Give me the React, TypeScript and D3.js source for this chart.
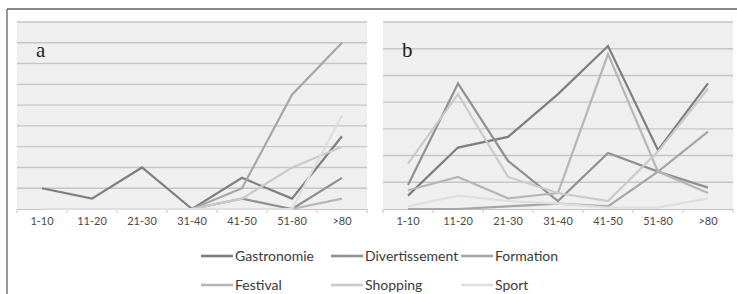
import React, { useEffect, useRef } from "react";
import * as d3 from "d3";

const ageGroups = ["1-10", "11-20", "21-30", "31-40", "41-50", "51-80", ">80"];
const seriesNames = ["Gastronomie", "Divertissement", "Formation", "Festival", "Shopping", "Sport"];
const seriesColors = ["#7e7e7e", "#909090", "#a6a6a6", "#b6b6b6", "#cacaca", "#dedede"];

// panel a
const aGastronomie = [1, 0.5, 2, 0, 1.5, 0.5, 3.5];
const aDivertissement = [0, 0, 0, 0, 0.5, 0, 1.5];
const aFormation = [0, 0, 0, 0, 1, 5.5, 8];
const aFestival = [0, 0, 0, 0, 0, 0, 0.5];
const aShopping = [0, 0, 0, 0, 0.5, 2, 3];
const aSport = [0, 0, 0, 0, 0, 0, 4.5];

// panel b
const bGastronomie = [0.5, 2.3, 2.7, 4.3, 6.1, 2.2, 4.7];
const bDivertissement = [0.9, 4.7, 1.8, 0.3, 2.1, 1.4, 0.8];
const bFormation = [0, 0, 0.1, 0.2, 0.1, 1.4, 2.9];
const bFestival = [0.7, 1.2, 0.4, 0.6, 5.8, 1.4, 0.6];
const bShopping = [1.7, 4.3, 1.2, 0.6, 0.3, 2.15, 4.5];
const bSport = [0.1, 0.5, 0.3, 0.2, 0.05, 0.05, 0.4];

const panels = [
  { label: "a", left: 17, top: 22, width: 350, bottom: 209, max: 9,
    series: [aGastronomie, aDivertissement, aFormation, aFestival, aShopping, aSport] },
  { label: "b", left: 383, top: 22, width: 350, bottom: 209, max: 7,
    series: [bGastronomie, bDivertissement, bFormation, bFestival, bShopping, bSport] },
];

const font = "Lato, 'Open Sans', sans-serif";

export default function App() {
  const ref = useRef<SVGSVGElement>(null);

  useEffect(() => {
    const svg = d3.select(ref.current);
    svg.selectAll("*").remove();

    // outer frame
    svg.append("line").attr("x1", 7).attr("x2", 737).attr("y1", 9).attr("y2", 9)
      .attr("stroke", "#606060").attr("stroke-width", 1.3);
    svg.append("line").attr("x1", 7).attr("x2", 7).attr("y1", 9).attr("y2", 294)
      .attr("stroke", "#606060").attr("stroke-width", 1.3);

    panels.forEach(p => {
      const g = svg.append("g");
      const x = d3.scaleBand().domain(ageGroups).range([p.left, p.left + p.width]);
      const y = d3.scaleLinear().domain([0, p.max]).range([p.bottom, p.top]);

      g.append("rect").attr("x", p.left).attr("y", p.top)
        .attr("width", p.width).attr("height", p.bottom - p.top).attr("fill", "#efefef");

      g.selectAll(".grid").data(d3.range(1, p.max + 1)).enter().append("line")
        .attr("x1", p.left).attr("x2", p.left + p.width)
        .attr("y1", d => y(d)).attr("y2", d => y(d))
        .attr("stroke", "#c6c6c6").attr("stroke-width", 1.4);

      const axis = d3.axisBottom(x).tickSize(0).tickPadding(8);
      const ax = g.append("g").attr("transform", `translate(0,${p.bottom})`).call(axis);
      ax.select(".domain").attr("stroke", "#c4c4c4").attr("stroke-width", 1.2);
      ax.selectAll("text").attr("fill", "#4a4a4a").style("font-family", font).style("font-size", "11px");
      // tick marks at band boundaries
      const edges = ageGroups.map(d => x(d) as number).concat([p.left + p.width]);
      ax.selectAll(".edge").data(edges).enter().append("line")
        .attr("x1", d => d).attr("x2", d => d).attr("y1", 0).attr("y2", 4)
        .attr("stroke", "#c4c4c4").attr("stroke-width", 1);

      const line = d3.line<number>()
        .x((d, i) => (x(ageGroups[i]) as number) + x.bandwidth() / 2)
        .y(d => y(d));

      p.series.forEach((s, i) => {
        g.append("path").datum(s).attr("d", line)
          .attr("fill", "none").attr("stroke", seriesColors[i])
          .attr("stroke-width", 2.2).attr("stroke-linejoin", "miter");
      });

      g.append("text").attr("x", p.left + 19).attr("y", 57)
        .style("font-family", "'Liberation Serif', 'DejaVu Serif', serif")
        .style("font-size", "21px").attr("fill", "#222").text(p.label);
    });

    // legend
    const legendCols = [201, 331, 461];
    const legendRows = [256, 285];
    seriesNames.forEach((name, i) => {
      const lx = legendCols[i % 3], ly = legendRows[Math.floor(i / 3)];
      svg.append("line").attr("x1", lx).attr("x2", lx + 32).attr("y1", ly).attr("y2", ly)
        .attr("stroke", seriesColors[i]).attr("stroke-width", 2.6);
      svg.append("text").attr("x", lx + 34).attr("y", ly).attr("dy", "0.35em")
        .style("font-family", font).style("font-size", "14px").attr("fill", "#3a3a3a").text(name);
    });
  }, []);

  return <svg ref={ref} width={737} height={294} style={{ position: "absolute", left: 0, top: 0, background: "#fff" }} />;
}
